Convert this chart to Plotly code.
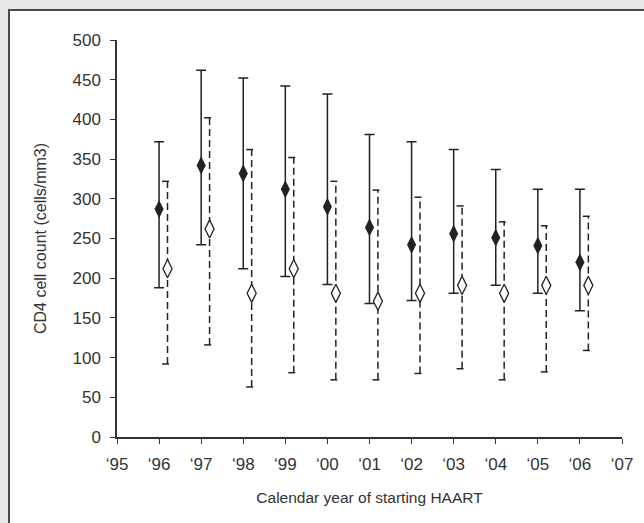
import plotly.graph_objects as go

years = [1996, 1997, 1998, 1999, 2000, 2001, 2002, 2003, 2004, 2005, 2006]
tick_vals = [1995, 1996, 1997, 1998, 1999, 2000, 2001, 2002, 2003, 2004, 2005, 2006, 2007]
tick_text = ["‘95", "‘96", "‘97", "‘98", "‘99", "‘00", "‘01", "‘02", "‘03", "‘04", "‘05", "‘06", "‘07"]

filled_mid = [287, 342, 332, 312, 290, 264, 242, 256, 251, 241, 220]
filled_low = [188, 242, 212, 202, 192, 168, 172, 181, 191, 181, 159]
filled_high = [372, 462, 452, 442, 432, 381, 372, 362, 337, 312, 312]

open_mid = [212, 262, 181, 212, 181, 171, 181, 191, 181, 191, 191]
open_low = [92, 116, 63, 81, 72, 72, 80, 86, 72, 82, 109]
open_high = [322, 402, 362, 352, 322, 311, 302, 291, 271, 266, 278]

OFF = 0.2
CAP = 0.13
INK = "#222222"

# dashed bars for open series
dx, dy = [], []
for yr, lo, hi in zip(years, open_low, open_high):
    xc = yr + OFF
    dx += [xc, xc, None, xc - CAP, xc + CAP, None, xc - CAP, xc + CAP, None]
    dy += [lo, hi, None, lo, lo, None, hi, hi, None]

fig = go.Figure()
fig.add_trace(go.Scatter(
    x=dx, y=dy, mode="lines",
    line=dict(color=INK, width=1.5, dash="7px,4px"),
    hoverinfo="skip", showlegend=False))

fig.add_trace(go.Scatter(
    x=years, y=filled_mid, mode="markers",
    marker=dict(symbol="diamond-tall", size=13, color=INK, line=dict(width=0)),
    error_y=dict(type="data", symmetric=False,
                 array=[h - m for h, m in zip(filled_high, filled_mid)],
                 arrayminus=[m - l for m, l in zip(filled_mid, filled_low)],
                 color=INK, thickness=1.5, width=5),
    showlegend=False))

fig.add_trace(go.Scatter(
    x=[y + OFF for y in years], y=open_mid, mode="markers",
    marker=dict(symbol="diamond-tall", size=13, color="white", line=dict(width=1.3, color=INK)),
    showlegend=False))

# white panel with border
L, R, T, B = 117, 622, 40, 437
pw, ph = R - L, B - T
def px_x(p):
    return (p - L) / pw
def px_y(p):
    return (B - p) / ph

fig.add_shape(type="rect", xref="paper", yref="paper",
              x0=px_x(9), x1=px_x(660), y0=px_y(540), y1=px_y(10),
              fillcolor="white", line=dict(color="#4a4a4a", width=2), layer="below")

fig.update_layout(
    width=644, height=523,
    margin=dict(l=L, r=644 - R, t=T, b=523 - B),
    paper_bgcolor="#e8e8e8", plot_bgcolor="rgba(0,0,0,0)",
    font=dict(family="Liberation Sans, Arial, sans-serif", size=16, color="#333333"),
    xaxis=dict(range=[1995, 2007], tickmode="array", tickvals=tick_vals, ticktext=tick_text,
               showgrid=False, zeroline=False, showline=True, linecolor="#333333", linewidth=1.5,
               ticks="outside", ticklen=5, tickwidth=1.2, tickcolor="#333333",
               ticklabelstandoff=6, tickfont=dict(size=17),
               title=dict(text="Calendar year of starting HAART", font=dict(size=15.5), standoff=19)),
    yaxis=dict(range=[0, 500], tickvals=[0, 50, 100, 150, 200, 250, 300, 350, 400, 450, 500],
               showgrid=False, zeroline=False, showline=True, linecolor="#333333", linewidth=1.5,
               ticks="outside", ticklen=5, tickwidth=1.2, tickcolor="#333333",
               ticklabelstandoff=6, tickfont=dict(size=17),
               title=dict(text="CD4 cell count (cells/mm3)", font=dict(size=16), standoff=22)),
)

fig.write_html("out.html")
